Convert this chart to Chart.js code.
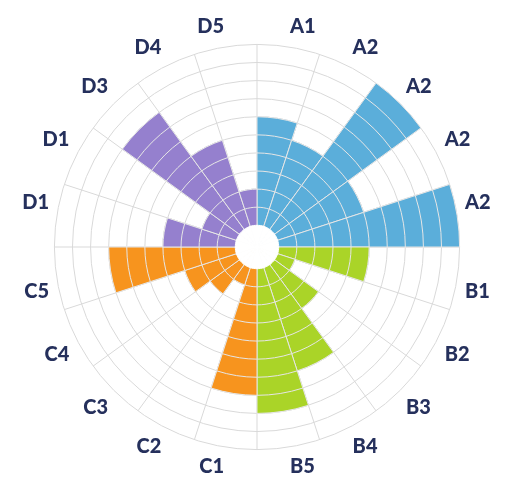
<!DOCTYPE html>
<html>
<head>
<meta charset="utf-8">
<script src="https://cdn.jsdelivr.net/npm/chart.js@4/dist/chart.umd.min.js"></script>
<style>
  html, body { margin: 0; padding: 0; background: #ffffff; }
  #wrap { width: 505px; height: 480px; position: relative; }
</style>
</head>
<body>
<div id="wrap"><canvas id="c" width="505" height="480"></canvas></div>
<script>
// Category labels (clockwise from 12 o'clock)
const labels = ['A1','A2','A2','A2','A2','B1','B2','B3','B4','B5','C1','C2','C3','C4','C5','D1','D1','D3','D4','D5'];

// Series values (number of rings filled per wedge)
const valuesA = [6, 5, 10, 5, 10];
const valuesB = [5, 1, 3, 6, 8];
const valuesC = [7, 1, 2, 3, 7];
const valuesD = [4, 2, 8, 5, 2];

// Radial tick range
const scaleMax = 10;
const holeSize = 1.2;

const colorA = '#5baeda';
const colorB = '#aad428';
const colorC = '#f7941e';
const colorD = '#9580ce';

const values = [...valuesA, ...valuesB, ...valuesC, ...valuesD];
const colors = [
  ...valuesA.map(() => colorA),
  ...valuesB.map(() => colorB),
  ...valuesC.map(() => colorC),
  ...valuesD.map(() => colorD)
];

// Dataset 0 (drawn on top) is the white centre hole; then one layer per ring level.
const datasets = [{
  data: values.map(() => 0),
  backgroundColor: '#ffffff',
  borderColor: '#ffffff',
  borderWidth: 1
}];
for (let k = 1; k <= scaleMax; k++) {
  datasets.push({
    data: values.map(v => Math.min(v, k)),
    backgroundColor: colors,
    borderColor: '#e6e6e6',
    borderWidth: 1
  });
}

new Chart(document.getElementById('c'), {
  type: 'polarArea',
  data: { labels, datasets },
  options: {
    responsive: false,
    animation: false,
    events: [],
    layout: { padding: { top: 15, bottom: -1, left: 9, right: 0 } },
    plugins: { legend: { display: false }, tooltip: { enabled: false } },
    scales: {
      r: {
        min: -holeSize,
        max: scaleMax,
        startAngle: 0,
        ticks: { display: false, stepSize: 1 },
        grid: {
          circular: true,
          color: ctx => (ctx.tick && ctx.tick.value >= 0) ? '#d9d9d9' : 'rgba(0,0,0,0)',
          lineWidth: 1
        },
        angleLines: { display: true, color: '#d9d9d9', lineWidth: 1 },
        pointLabels: {
          display: true,
          centerPointLabels: true,
          padding: 8,
          color: '#25305c',
          font: { family: 'Lato', size: 20, weight: '900' }
        }
      }
    }
  }
});
</script>
</body>
</html>
